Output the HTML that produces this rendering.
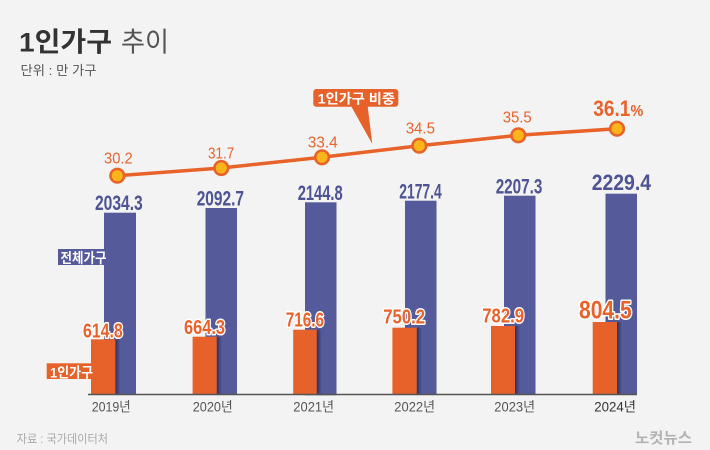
<!DOCTYPE html>
<html><head><meta charset="utf-8"><style>
html,body{margin:0;padding:0;background:#f3f3f3;}
svg{display:block;}
text{font-family:"Liberation Sans","Noto Sans CJK KR",sans-serif;}
</style></head><body>
<svg width="710" height="450" viewBox="0 0 710 450" xmlns="http://www.w3.org/2000/svg">
<defs>
<linearGradient id="sh" x1="0" x2="1" y1="0" y2="0">
<stop offset="0" stop-color="#000" stop-opacity="0.45"/>
<stop offset="1" stop-color="#000" stop-opacity="0"/>
</linearGradient>
</defs>
<rect width="710" height="450" fill="#f3f3f3"/>

<!-- Title -->
<text x="19" y="51.5" font-size="27" font-weight="bold" fill="#333" textLength="93" lengthAdjust="spacingAndGlyphs">1인가구</text>
<text x="121" y="51.5" font-size="27" fill="#555" textLength="48" lengthAdjust="spacingAndGlyphs">추이</text>
<text x="20.5" y="75" font-size="13" fill="#555" textLength="76" lengthAdjust="spacingAndGlyphs">단위 : 만 가구</text>

<!-- Blue bars -->
<g fill="#555a9b">
<rect x="104" y="212.7" width="32" height="182"/>
<rect x="205.5" y="208" width="31.5" height="187"/>
<rect x="305" y="202.3" width="31.5" height="193"/>
<rect x="405" y="200.7" width="31.5" height="194"/>
<rect x="504" y="195.7" width="31.5" height="199"/>
<rect x="605.5" y="193.7" width="31.5" height="201"/>
</g>
<!-- legend tag blue -->
<rect x="58" y="249" width="48" height="16" fill="#555a9b"/>
<text x="60.5" y="263" font-size="14" font-weight="bold" fill="#fff" textLength="46" lengthAdjust="spacingAndGlyphs">전체가구</text>

<!-- shadows -->
<g fill="url(#sh)">
<rect x="115.3" y="339.3" width="5" height="55"/>
<rect x="216.7" y="336.7" width="5" height="58"/>
<rect x="316.7" y="329.7" width="5" height="65"/>
<rect x="416.7" y="327.7" width="5" height="67"/>
<rect x="515" y="326" width="5" height="68"/>
<rect x="617" y="322" width="5" height="72"/>
</g>
<!-- Orange bars -->
<g fill="#e6622a">
<rect x="91" y="339.3" width="24.3" height="55"/>
<rect x="192.6" y="336.7" width="24.1" height="58"/>
<rect x="293.2" y="329.7" width="23.5" height="65"/>
<rect x="392.4" y="327.7" width="24.3" height="67"/>
<rect x="491" y="326" width="24" height="68"/>
<rect x="592.7" y="322" width="24.3" height="72"/>
</g>
<rect x="46.7" y="363.3" width="46" height="15.7" fill="#e6622a"/>
<text x="50" y="377.3" font-size="14" font-weight="bold" fill="#fff" textLength="43" lengthAdjust="spacingAndGlyphs">1인가구</text>

<!-- axis -->
<line x1="88" y1="394.5" x2="637" y2="394.5" stroke="#555" stroke-width="1.5"/>

<!-- year labels -->
<g font-size="13.5" fill="#555">
<text x="91.7" y="411.5" textLength="39" lengthAdjust="spacingAndGlyphs">2019년</text>
<text x="192.7" y="411.5" textLength="40" lengthAdjust="spacingAndGlyphs">2020년</text>
<text x="293.3" y="411.5" textLength="40.7" lengthAdjust="spacingAndGlyphs">2021년</text>
<text x="394.3" y="411.5" textLength="40.7" lengthAdjust="spacingAndGlyphs">2022년</text>
<text x="494.3" y="411.5" textLength="40.7" lengthAdjust="spacingAndGlyphs">2023년</text>
<text x="594.3" y="411.5" textLength="41.7" lengthAdjust="spacingAndGlyphs" fill="#333">2024년</text>
</g>

<!-- blue value labels -->
<g font-size="21" font-weight="bold" fill="#4d5394">
<text x="95" y="210" textLength="47.7" lengthAdjust="spacingAndGlyphs">2034.3</text>
<text x="196.7" y="205.7" textLength="47.3" lengthAdjust="spacingAndGlyphs">2092.7</text>
<text x="297.7" y="200" textLength="45" lengthAdjust="spacingAndGlyphs">2144.8</text>
<text x="399.3" y="198.3" textLength="42.4" lengthAdjust="spacingAndGlyphs">2177.4</text>
<text x="495.7" y="193.3" textLength="46.6" lengthAdjust="spacingAndGlyphs">2207.3</text>
<text x="591.7" y="190" font-size="22" textLength="59.3" lengthAdjust="spacingAndGlyphs">2229.4</text>
</g>

<!-- orange value labels -->
<g font-size="20" font-weight="bold" fill="#e8622a" stroke="#fff" stroke-width="3" stroke-linejoin="round" paint-order="stroke">
<text x="83" y="337.3" textLength="39.7" lengthAdjust="spacingAndGlyphs">614.8</text>
<text x="184" y="334" textLength="41" lengthAdjust="spacingAndGlyphs">664.3</text>
<text x="285.7" y="326.7" textLength="38.3" lengthAdjust="spacingAndGlyphs">716.6</text>
<text x="383.3" y="323.3" textLength="41.7" lengthAdjust="spacingAndGlyphs">750.2</text>
<text x="482.3" y="322.7" textLength="41.7" lengthAdjust="spacingAndGlyphs">782.9</text>
<text x="579" y="318.3" font-size="25" textLength="52.7" lengthAdjust="spacingAndGlyphs">804.5</text>
</g>

<!-- callout -->
<rect x="313.3" y="89" width="85" height="17.7" rx="3" fill="#e6622a"/>
<polygon points="350.5,105 367.5,105 372.3,144" fill="#e6622a"/>
<text x="317.7" y="103.3" font-size="13.5" font-weight="bold" fill="#fff" textLength="77.3" lengthAdjust="spacingAndGlyphs">1인가구 비중</text>

<!-- line -->
<polyline points="117.3,175.7 221.3,168 322,157.3 419.3,145.7 518.3,135.3 617,128.7" fill="none" stroke="#e8632a" stroke-width="3.5" stroke-linejoin="round"/>
<g fill="#fbb41a" stroke="#e8632a" stroke-width="2.6">
<circle cx="117.3" cy="175.7" r="6.8"/>
<circle cx="221.3" cy="168" r="6.8"/>
<circle cx="322" cy="157.3" r="6.8"/>
<circle cx="419.3" cy="145.7" r="6.8"/>
<circle cx="518.3" cy="135.3" r="6.8"/>
<circle cx="617" cy="128.7" r="6.8"/>
</g>

<!-- line labels -->
<g font-size="16" fill="#e8622a">
<text x="104" y="163.3" textLength="28.7" lengthAdjust="spacingAndGlyphs">30.2</text>
<text x="208" y="158.3" textLength="26.3" lengthAdjust="spacingAndGlyphs">31.7</text>
<text x="307.7" y="147.7" textLength="30" lengthAdjust="spacingAndGlyphs">33.4</text>
<text x="405.7" y="133.3" textLength="29.3" lengthAdjust="spacingAndGlyphs">34.5</text>
<text x="502.7" y="122.7" textLength="29" lengthAdjust="spacingAndGlyphs">35.5</text>
</g>
<text x="593.3" y="116" font-size="22" font-weight="bold" fill="#e8622a" textLength="37" lengthAdjust="spacingAndGlyphs">36.1</text>
<text x="630.5" y="116" font-size="16" font-weight="bold" fill="#e8622a" textLength="12.8" lengthAdjust="spacingAndGlyphs">%</text>

<!-- source & logo -->
<text x="16.7" y="443" font-size="12" fill="#aaa" textLength="91.3" lengthAdjust="spacingAndGlyphs">자료 : 국가데이터처</text>
<text x="635" y="443" font-size="15" font-weight="bold" fill="#b3b3b3" textLength="57" lengthAdjust="spacingAndGlyphs">노컷뉴스</text>
</svg>
</body></html>
